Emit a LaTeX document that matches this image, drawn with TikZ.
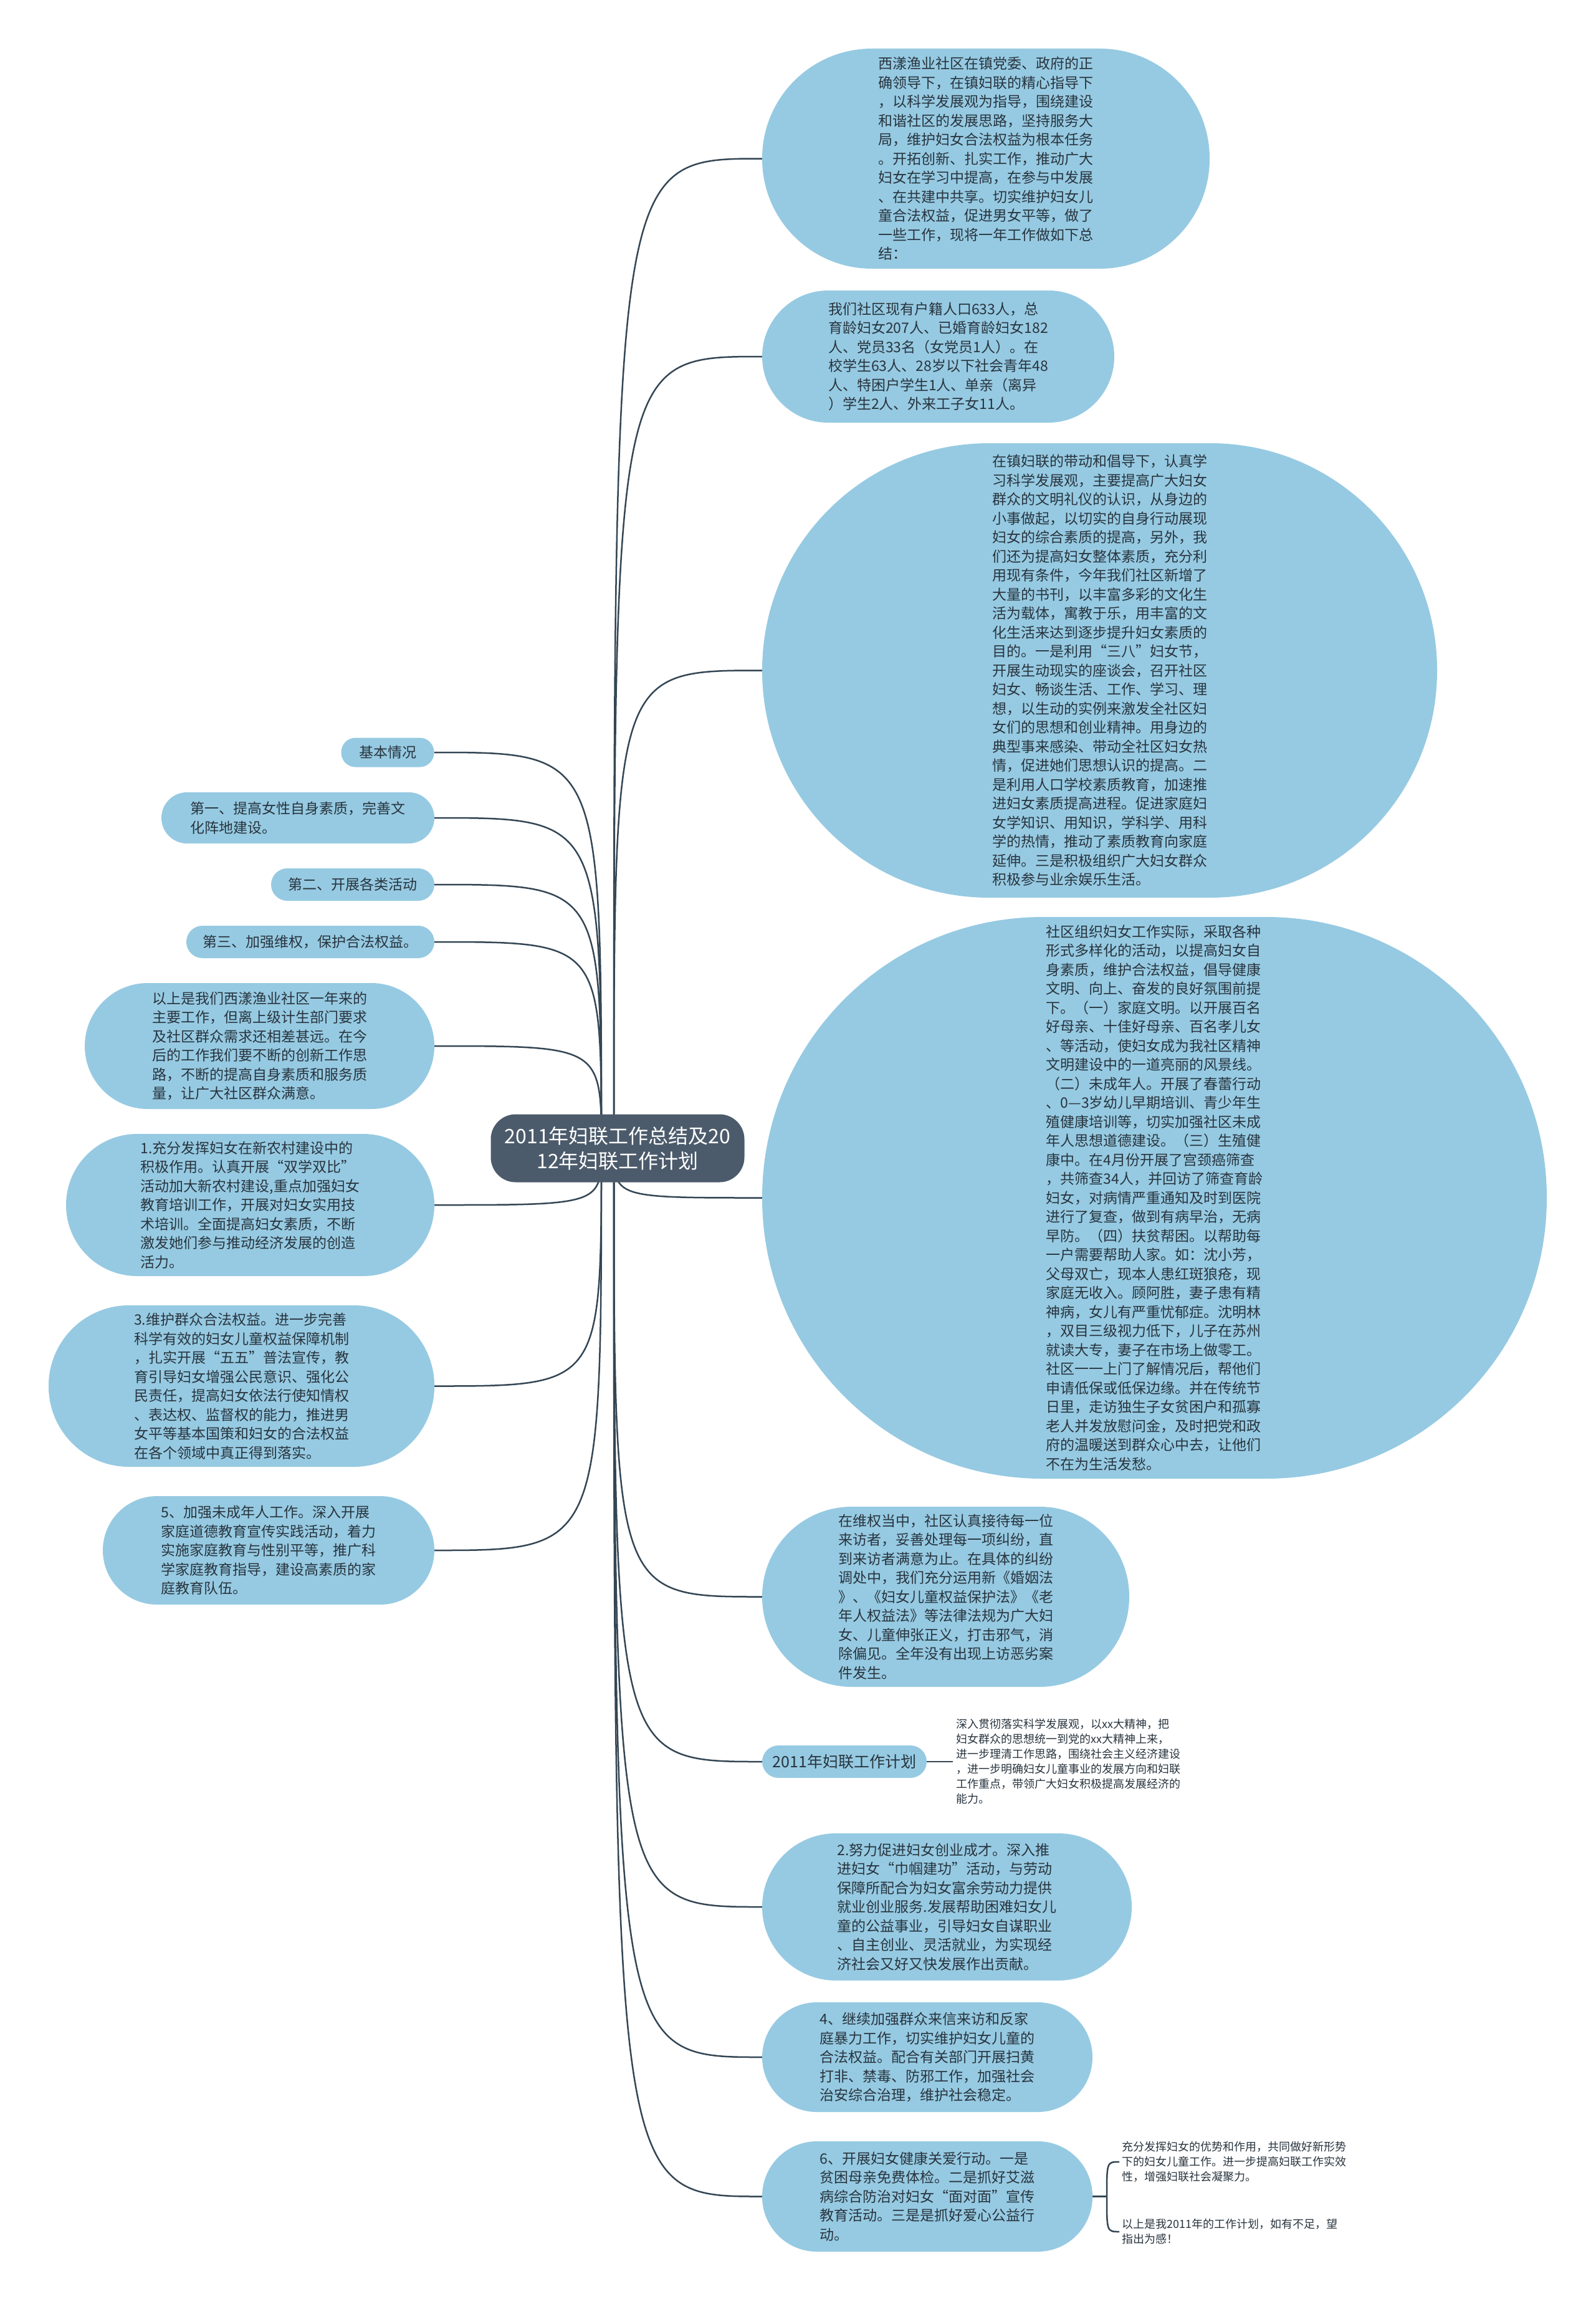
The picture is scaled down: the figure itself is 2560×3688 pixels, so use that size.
\documentclass[tikz,border=0pt]{standalone}
\usepackage{fontspec}
\setmainfont{Noto Sans CJK SC}
\usetikzlibrary{backgrounds}
\definecolor{bubc}{RGB}{150,202,226}
\definecolor{rootc}{RGB}{76,91,107}
\definecolor{linec}{RGB}{52,70,84}
\definecolor{txtc}{RGB}{40,52,62}
\begin{document}
\begin{tikzpicture}[x=1pt,y=-1pt,
  bub/.style={fill=bubc, text=txtc, inner sep=0pt, align=left, font=\fontsize{23}{30.5}\selectfont},
  plaintxt/.style={text=txtc, inner sep=0pt, align=left, font=\fontsize{18}{24}\selectfont},
  rootnode/.style={fill=rootc, text=white, inner sep=0pt, align=center, rounded corners=40pt, font=\fontsize{32}{40}\selectfont},
  link/.style={draw=linec, line width=2.5pt}]
\useasboundingbox (0,0) rectangle (2560,3688);

% root
\node[rootnode, minimum width=407pt, minimum height=109pt] (root) at (991,1842) {2011年妇联工作总结及20\\12年妇联工作计划};

% left side
\node[bub, minimum width=149pt, minimum height=47pt, rounded corners=23pt] (L1) at (622,1207) {基本情况};
\node[bub, minimum width=438pt, minimum height=82pt, rounded corners=41pt] (L2) at (478,1312) {第一、提高女性自身素质，完善文\\化阵地建设。};
\node[bub, minimum width=262pt, minimum height=52pt, rounded corners=26pt] (L3) at (566,1419) {第二、开展各类活动};
\node[bub, minimum width=398pt, minimum height=52pt, rounded corners=26pt] (L4) at (498,1511) {第三、加强维权，保护合法权益。};
\node[bub, minimum width=561pt, minimum height=202pt, rounded corners=101pt] (L5) at (416.5,1678) {以上是我们西漾渔业社区一年来的\\主要工作，但离上级计生部门要求\\及社区群众需求还相差甚远。在今\\后的工作我们要不断的创新工作思\\路，不断的提高自身素质和服务质\\量，让广大社区群众满意。};
\node[bub, minimum width=591pt, minimum height=228pt, rounded corners=114pt] (L6) at (401.5,1933) {1.充分发挥妇女在新农村建设中的\\积极作用。认真开展“双学双比”\\活动加大新农村建设,重点加强妇女\\教育培训工作，开展对妇女实用技\\术培训。全面提高妇女素质，不断\\激发她们参与推动经济发展的创造\\活力。};
\node[bub, minimum width=619pt, minimum height=259pt, rounded corners=129pt] (L7) at (387.5,2223.5) {3.维护群众合法权益。进一步完善\\科学有效的妇女儿童权益保障机制\\，扎实开展“五五”普法宣传，教\\育引导妇女增强公民意识、强化公\\民责任，提高妇女依法行使知情权\\、表达权、监督权的能力，推进男\\女平等基本国策和妇女的合法权益\\在各个领域中真正得到落实。};
\node[bub, minimum width=532pt, minimum height=174pt, rounded corners=87pt] (L8) at (431,2487) {5、加强未成年人工作。深入开展\\家庭道德教育宣传实践活动，着力\\实施家庭教育与性别平等，推广科\\学家庭教育指导，建设高素质的家\\庭教育队伍。};

% right side
\node[bub, minimum width=718pt, minimum height=353pt, rounded corners=176pt] (R1) at (1582,254.5) {西漾渔业社区在镇党委、政府的正\\确领导下，在镇妇联的精心指导下\\，以科学发展观为指导，围绕建设\\和谐社区的发展思路，坚持服务大\\局，维护妇女合法权益为根本任务\\。开拓创新、扎实工作，推动广大\\妇女在学习中提高，在参与中发展\\、在共建中共享。切实维护妇女儿\\童合法权益，促进男女平等，做了\\一些工作，现将一年工作做如下总\\结：};
\node[bub, minimum width=565pt, minimum height=212pt, rounded corners=106pt] (R2) at (1505.5,572) {我们社区现有户籍人口633人，总\\育龄妇女207人、已婚育龄妇女182\\人、党员33名（女党员1人）。在\\校学生63人、28岁以下社会青年48\\人、特困户学生1人、单亲（离异\\）学生2人、外来工子女11人。};
\node[bub, minimum width=1083pt, minimum height=729pt, rounded corners=364pt] (R3) at (1764.5,1075.5) {在镇妇联的带动和倡导下，认真学\\习科学发展观，主要提高广大妇女\\群众的文明礼仪的认识，从身边的\\小事做起，以切实的自身行动展现\\妇女的综合素质的提高，另外，我\\们还为提高妇女整体素质，充分利\\用现有条件，今年我们社区新增了\\大量的书刊，以丰富多彩的文化生\\活为载体，寓教于乐，用丰富的文\\化生活来达到逐步提升妇女素质的\\目的。一是利用“三八”妇女节，\\开展生动现实的座谈会，召开社区\\妇女、畅谈生活、工作、学习、理\\想，以生动的实例来激发全社区妇\\女们的思想和创业精神。用身边的\\典型事来感染、带动全社区妇女热\\情，促进她们思想认识的提高。二\\是利用人口学校素质教育，加速推\\进妇女素质提高进程。促进家庭妇\\女学知识、用知识，学科学、用科\\学的热情，推动了素质教育向家庭\\延伸。三是积极组织广大妇女群众\\积极参与业余娱乐生活。};
\node[bub, minimum width=1259pt, minimum height=901pt, rounded corners=450pt] (R4) at (1852.5,1921.5) {社区组织妇女工作实际，采取各种\\形式多样化的活动，以提高妇女自\\身素质，维护合法权益，倡导健康\\文明、向上、奋发的良好氛围前提\\下。（一）家庭文明。以开展百名\\好母亲、十佳好母亲、百名孝儿女\\、等活动，使妇女成为我社区精神\\文明建设中的一道亮丽的风景线。\\（二）未成年人。开展了春蕾行动\\、0—3岁幼儿早期培训、青少年生\\殖健康培训等，切实加强社区未成\\年人思想道德建设。（三）生殖健\\康中。在4月份开展了宫颈癌筛查\\，共筛查34人，并回访了筛查育龄\\妇女，对病情严重通知及时到医院\\进行了复查，做到有病早治，无病\\早防。（四）扶贫帮困。以帮助每\\一户需要帮助人家。如：沈小芳，\\父母双亡，现本人患红斑狼疮，现\\家庭无收入。顾阿胜，妻子患有精\\神病，女儿有严重忧郁症。沈明林\\，双目三级视力低下，儿子在苏州\\就读大专，妻子在市场上做零工。\\社区一一上门了解情况后，帮他们\\申请低保或低保边缘。并在传统节\\日里，走访独生子女贫困户和孤寡\\老人并发放慰问金，及时把党和政\\府的温暖送到群众心中去，让他们\\不在为生活发愁。};
\node[bub, minimum width=589pt, minimum height=289pt, rounded corners=144pt] (R5) at (1517.5,2561.5) {在维权当中，社区认真接待每一位\\来访者，妥善处理每一项纠纷，直\\到来访者满意为止。在具体的纠纷\\调处中，我们充分运用新《婚姻法\\》、《妇女儿童权益保护法》《老\\年人权益法》等法律法规为广大妇\\女、儿童伸张正义，打击邪气，消\\除偏见。全年没有出现上访恶劣案\\件发生。};
\node[bub, minimum width=264pt, minimum height=52pt, rounded corners=26pt, font=\fontsize{25}{30}\selectfont] (R6) at (1355,2826) {2011年妇联工作计划};
\node[plaintxt, anchor=west] (R6t) at (1534,2826) {深入贯彻落实科学发展观，以xx大精神，把\\妇女群众的思想统一到党的xx大精神上来，\\进一步理清工作思路，围绕社会主义经济建设\\，进一步明确妇女儿童事业的发展方向和妇联\\工作重点，带领广大妇女积极提高发展经济的\\能力。};
\node[bub, minimum width=593pt, minimum height=236pt, rounded corners=118pt] (R7) at (1519.5,3059) {2.努力促进妇女创业成才。深入推\\进妇女“巾帼建功”活动，与劳动\\保障所配合为妇女富余劳动力提供\\就业创业服务.发展帮助困难妇女儿\\童的公益事业，引导妇女自谋职业\\、自主创业、灵活就业，为实现经\\济社会又好又快发展作出贡献。};
\node[bub, minimum width=530pt, minimum height=176pt, rounded corners=88pt] (R8) at (1488,3300) {4、继续加强群众来信来访和反家\\庭暴力工作，切实维护妇女儿童的\\合法权益。配合有关部门开展扫黄\\打非、禁毒、防邪工作，加强社会\\治安综合治理，维护社会稳定。};
\node[bub, minimum width=530pt, minimum height=177pt, rounded corners=88pt] (R9) at (1488,3523.5) {6、开展妇女健康关爱行动。一是\\贫困母亲免费体检。二是抓好艾滋\\病综合防治对妇女“面对面”宣传\\教育活动。三是是抓好爱心公益行\\动。};
\node[plaintxt, anchor=west] (R9A) at (1800,3468) {充分发挥妇女的优势和作用，共同做好新形势\\下的妇女儿童工作。进一步提高妇联工作实效\\性，增强妇联社会凝聚力。};
\node[plaintxt, anchor=west] (R9B) at (1800,3580) {以上是我2011年的工作计划，如有不足，望\\指出为感！};

\begin{scope}[on background layer]
\fill[white] (0,0) rectangle (2560,3688);
\coordinate (sL) at (965,1842);
\coordinate (sR) at (985,1842);
\foreach \n in {L1,L2,L3,L4,L5,L6,L7,L8}
  \draw[link] (sL) .. controls (sL |- \n.east) .. (\n.east);
\foreach \n in {R1,R2,R3,R4,R5,R6,R7,R8,R9}
  \draw[link] (sR) .. controls (sR |- \n.west) .. (\n.west);
\draw[link, shorten >=5pt] (R6.east) -- (R6t.west);
\coordinate (b9) at (1776,3523.5);
\draw[link] (R9.east) -- (b9);
\draw[link, shorten >=4pt] (b9) .. controls (b9 |- R9A.west) .. (R9A.west);
\draw[link, shorten >=4pt] (b9) .. controls (b9 |- R9B.west) .. (R9B.west);
\end{scope}
\end{tikzpicture}
\end{document}
